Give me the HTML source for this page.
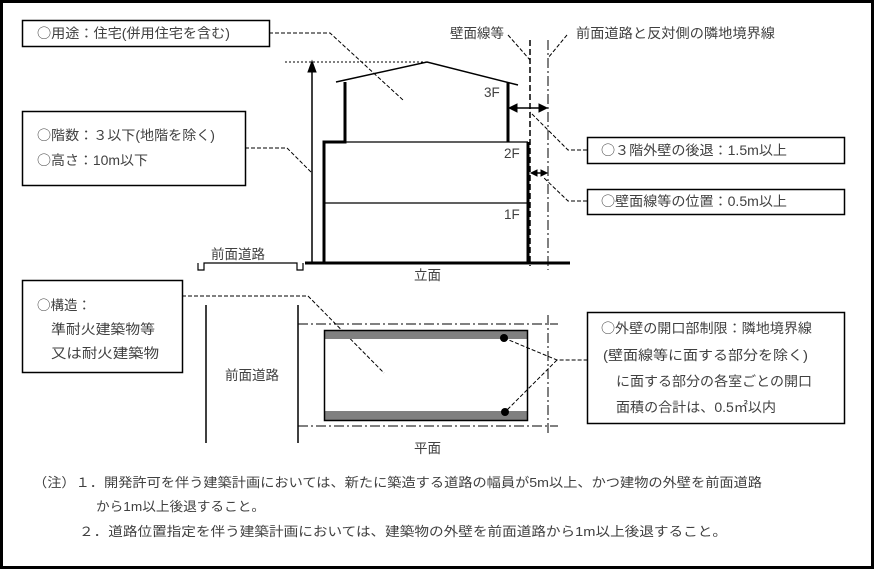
<!DOCTYPE html>
<html><head><meta charset="utf-8"><style>
html,body{margin:0;padding:0;background:#fff}
svg{display:block}
text{font-family:"Liberation Sans","Noto Sans CJK JP",sans-serif;fill:#404040;font-size:13.5px}
.c{font-family:"Noto Sans CJK JP",sans-serif}
</style></head><body>
<svg width="875" height="570" viewBox="0 0 875 570" xmlns="http://www.w3.org/2000/svg">
<rect x="1.5" y="1.5" width="871" height="566" fill="#fff" stroke="#000" stroke-width="3"/>
<g fill="none" stroke="#000">
<rect x="22.5" y="20.5" width="247" height="26" stroke-width="1.5"/>
<rect x="22.5" y="111.5" width="223" height="74" stroke-width="1.5"/>
<rect x="22.5" y="280.5" width="160" height="92" stroke-width="1.5"/>
<rect x="587.5" y="137.5" width="257" height="26" stroke-width="1.5"/>
<rect x="587.5" y="189.5" width="257" height="25" stroke-width="1.5"/>
<rect x="587.5" y="312.5" width="257" height="111" stroke-width="1.5"/>
<line x1="305" y1="263" x2="570" y2="263" stroke-width="3"/>
<path d="M198 263 L198 270 L204 270 L204 263 L297 263 L297 270 L303 270 L303 263" stroke-width="1.2"/>
<path d="M324 263 L324 142 L345 142 L345 82" stroke-width="3"/>
<line x1="528" y1="142" x2="528" y2="263" stroke-width="3"/>
<line x1="345" y1="142" x2="528" y2="142" stroke-width="1.2"/>
<line x1="324" y1="203" x2="528" y2="203" stroke-width="1.2"/>
<line x1="508" y1="142" x2="508" y2="82" stroke-width="3"/>
<path d="M336 82 L427 62 L518 85" stroke-width="1.5"/>
<line x1="285" y1="62" x2="427" y2="62" stroke-width="1" stroke-dasharray="2,2"/>
<line x1="312" y1="263" x2="312" y2="70" stroke-width="1.5"/>
<path d="M312 61 L308 72 L316 72 Z" fill="#000"/>
<line x1="530" y1="40" x2="530" y2="266" stroke-width="1.5" stroke-dasharray="6,3"/>
<line x1="548" y1="40" x2="548" y2="270" stroke-width="1" stroke-dasharray="10,3,2,3"/>
<line x1="513" y1="108" x2="543" y2="108" stroke-width="1.5"/>
<path d="M509 108 L517 104 L517 112 Z M547 108 L539 104 L539 112 Z" fill="#000"/>
<line x1="533" y1="173" x2="545" y2="173" stroke-width="1.5"/>
<path d="M531 173 L537 170 L537 176 Z M547 173 L541 170 L541 176 Z" fill="#000"/>
<g stroke-width="1" stroke-dasharray="4,2">
<path d="M269 33 L330 33 L403 100"/>
<path d="M245 148 L287 148 L312 173"/>
<path d="M508 35 L530 60"/>
<path d="M567 35 L548 58"/>
<path d="M587 150 L568 150 L530 112"/>
<path d="M587 201 L568 201 L543 177"/>
<path d="M182 296 L308 296 L384 373"/>
<path d="M504 338 L557 360 L587 360 M557 360 L505 412"/>
</g>
<line x1="206" y1="305" x2="206" y2="443" stroke-width="1.5"/>
<line x1="298" y1="305" x2="298" y2="443" stroke-width="1.5"/>
<line x1="298" y1="324" x2="558" y2="324" stroke-width="1" stroke-dasharray="10,3,2,3"/>
<line x1="298" y1="426" x2="558" y2="426" stroke-width="1" stroke-dasharray="10,3,2,3"/>
<line x1="548" y1="315" x2="548" y2="436" stroke-width="1" stroke-dasharray="10,3,2,3"/>
</g>
<rect x="324" y="330" width="204" height="9" fill="#808080"/>
<rect x="324" y="411" width="204" height="10" fill="#808080"/>
<rect x="324.5" y="330.5" width="203" height="90" fill="none" stroke="#000" stroke-width="1.5"/>
<circle cx="504" cy="338" r="4" fill="#000"/>
<circle cx="505" cy="412" r="4" fill="#000"/>
<text x="37" y="38" textLength="193" lengthAdjust="spacingAndGlyphs"><tspan class="c">○</tspan>用途：住宅(併用住宅を含む)</text>
<text x="37" y="140" textLength="178" lengthAdjust="spacingAndGlyphs"><tspan class="c">○</tspan>階数：３以下(地階を除く)</text>
<text x="37" y="165" textLength="111" lengthAdjust="spacingAndGlyphs"><tspan class="c">○</tspan>高さ：10m以下</text>
<text x="211" y="259">前面道路</text>
<text x="37" y="310"><tspan class="c">○</tspan>構造：</text>
<text x="51" y="334" textLength="104" lengthAdjust="spacingAndGlyphs">準耐火建築物等</text>
<text x="51" y="358" textLength="108" lengthAdjust="spacingAndGlyphs">又は耐火建築物</text>
<text x="450" y="38">壁面線等</text>
<text x="576" y="38" textLength="199" lengthAdjust="spacingAndGlyphs">前面道路と反対側の隣地境界線</text>
<text x="484" y="97">3F</text>
<text x="504" y="158">2F</text>
<text x="504" y="219">1F</text>
<text x="414" y="280">立面</text>
<text x="601" y="155" textLength="186" lengthAdjust="spacingAndGlyphs"><tspan class="c">○</tspan>３階外壁の後退：1.5m以上</text>
<text x="601" y="206" textLength="186" lengthAdjust="spacingAndGlyphs"><tspan class="c">○</tspan>壁面線等の位置：0.5m以上</text>
<text x="225" y="380">前面道路</text>
<text x="414" y="453">平面</text>
<text x="601" y="333" textLength="211" lengthAdjust="spacingAndGlyphs"><tspan class="c">○</tspan>外壁の開口部制限：隣地境界線</text>
<text x="603" y="360" textLength="205" lengthAdjust="spacingAndGlyphs">(壁面線等に面する部分を除く)</text>
<text x="616" y="386" textLength="196" lengthAdjust="spacingAndGlyphs">に面する部分の各室ごとの開口</text>
<text x="616" y="412" textLength="160" lengthAdjust="spacingAndGlyphs">面積の合計は、0.5㎡以内</text>
<text x="33" y="487" style="font-size:13px" textLength="729" lengthAdjust="spacingAndGlyphs">（注）１．開発許可を伴う建築計画においては、新たに築造する道路の幅員が5m以上、かつ建物の外壁を前面道路</text>
<text x="96" y="511" style="font-size:13px" textLength="169" lengthAdjust="spacingAndGlyphs">から1m以上後退すること。</text>
<text x="79" y="536" style="font-size:13px" textLength="648" lengthAdjust="spacingAndGlyphs">２．道路位置指定を伴う建築計画においては、建築物の外壁を前面道路から1m以上後退すること。</text>
</svg>
</body></html>
